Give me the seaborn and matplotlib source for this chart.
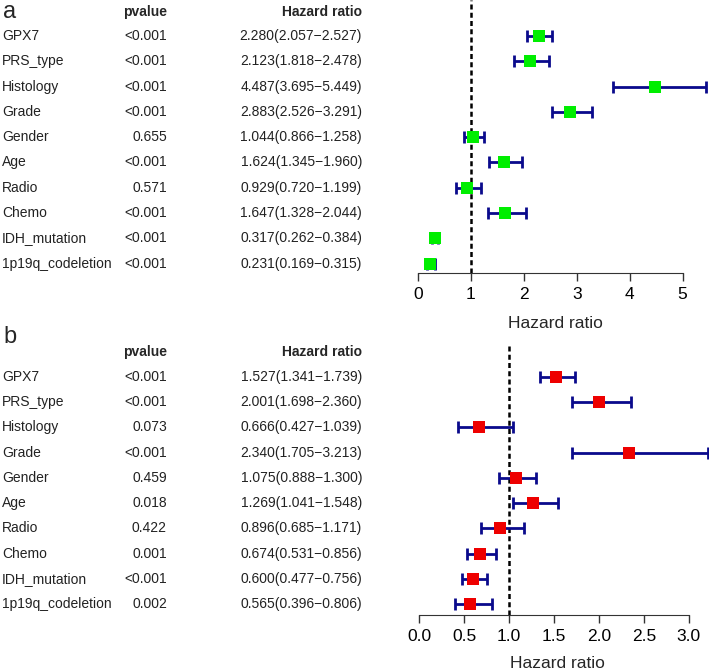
import numpy as np
import pandas as pd
import matplotlib
matplotlib.use("Agg")
import matplotlib.pyplot as plt
import matplotlib.transforms as mtransforms
import seaborn as sns

genes = ["GPX7", "PRS_type", "Histology", "Grade", "Gender", "Age",
         "Radio", "Chemo", "IDH_mutation", "1p19q_codeletion"]

# panel a
pval_a = ["<0.001", "<0.001", "<0.001", "<0.001", "0.655", "<0.001",
          "0.571", "<0.001", "<0.001", "<0.001"]
hr_a = [2.280, 2.123, 4.487, 2.883, 1.044, 1.624, 0.929, 1.647, 0.317, 0.231]
lo_a = [2.057, 1.818, 3.695, 2.526, 0.866, 1.345, 0.720, 1.328, 0.262, 0.169]
hi_a = [2.527, 2.478, 5.449, 3.291, 1.258, 1.960, 1.199, 2.044, 0.384, 0.315]
ticks_a = [0, 1, 2, 3, 4, 5]
ticklabels_a = ["0", "1", "2", "3", "4", "5"]

# panel b
pval_b = ["<0.001", "<0.001", "0.073", "<0.001", "0.459", "0.018",
          "0.422", "0.001", "<0.001", "0.002"]
hr_b = [1.527, 2.001, 0.666, 2.340, 1.075, 1.269, 0.896, 0.674, 0.600, 0.565]
lo_b = [1.341, 1.698, 0.427, 1.705, 0.888, 1.041, 0.685, 0.531, 0.477, 0.396]
hi_b = [1.739, 2.360, 1.039, 3.213, 1.300, 1.548, 1.171, 0.856, 0.756, 0.806]
ticks_b = [0.0, 0.5, 1.0, 1.5, 2.0, 2.5, 3.0]
ticklabels_b = ["0.0", "0.5", "1.0", "1.5", "2.0", "2.5", "3.0"]

sns.set_style("ticks")
plt.rcParams['font.family'] = ['Liberation Sans', 'DejaVu Sans']

W, H = 709, 671
fig = plt.figure(figsize=(W / 100, H / 100), dpi=100)


def forest(ax, letter, letter_y, header_y, pvals, hr, lo, hi, color,
           xlim, ylim, ticks, ticklabels, labelpad):
    df = pd.DataFrame({"gene": genes, "p": pvals, "hr": hr, "lo": lo, "hi": hi})
    df["row"] = np.arange(len(df))
    ax.errorbar(df["hr"], df["row"],
                xerr=[df["hr"] - df["lo"], df["hi"] - df["hr"]],
                fmt="none", ecolor="#0a0a8c", elinewidth=2, capsize=4.5,
                capthick=2, zorder=2)
    sns.scatterplot(data=df, x="hr", y="row", marker="s", color=color,
                    s=75, edgecolor="none", ax=ax, zorder=3)
    ax.axvline(1, color="black", ls=(0, (2, 1.3)), lw=1.8, zorder=1)
    ax.set_xlim(*xlim)
    ax.set_ylim(*ylim)
    ax.set_yticks([])
    ax.set_xticks(ticks)
    ax.set_xticklabels(ticklabels)
    for s in ["left", "top", "right"]:
        ax.spines[s].set_visible(False)
    ax.spines["bottom"].set_bounds(ticks[0], ticks[-1])
    ax.spines["bottom"].set_color("#333333")
    ax.tick_params(axis="x", length=6, width=1, color="#333333",
                   labelcolor="black", labelsize=12.5, pad=4)
    ax.set_xlabel("Hazard ratio", fontsize=12.5, labelpad=labelpad)
    ax.set_ylabel("")

    # table on the left
    tr = mtransforms.blended_transform_factory(fig.transFigure, ax.transData)
    ax.text(3 / W, letter_y, letter, transform=tr, fontsize=17,
            ha="left", va="center")
    ax.text(167 / W, header_y, "pvalue", transform=tr, fontsize=10,
            fontweight="bold", ha="right", va="center")
    ax.text(362 / W, header_y, "Hazard ratio", transform=tr, fontsize=10,
            fontweight="bold", ha="right", va="center")
    for _, r in df.iterrows():
        ax.text(2 / W, r["row"], r["gene"], transform=tr, fontsize=10,
                ha="left", va="center", color="#222222")
        ax.text(167 / W, r["row"], r["p"], transform=tr, fontsize=10,
                ha="right", va="center", color="#222222")
        label = f"{r['hr']:.3f}({r['lo']:.3f}\u2212{r['hi']:.3f})"
        ax.text(362 / W, r["row"], label, transform=tr, fontsize=10,
                ha="right", va="center", color="#222222")


ax_a = fig.add_axes([402 / W, (H - 273) / H, 307 / W, 273 / H])
forest(ax_a, "a", -0.95, -0.95, pval_a, hr_a, lo_a, hi_a, "#00ee00",
       (-0.3, 5.5), (9.37, -1.42), ticks_a, ticklabels_a, 10)

ax_b = fig.add_axes([405.8 / W, (H - 615) / H, 303.6 / W, 272 / H])
forest(ax_b, "b", -1.57, -0.97, pval_b, hr_b, lo_b, hi_b, "#ee0000",
       (-0.15, 3.23), (9.42, -1.33), ticks_b, ticklabels_b, 8.5)

fig.savefig("out.png", dpi=100)
